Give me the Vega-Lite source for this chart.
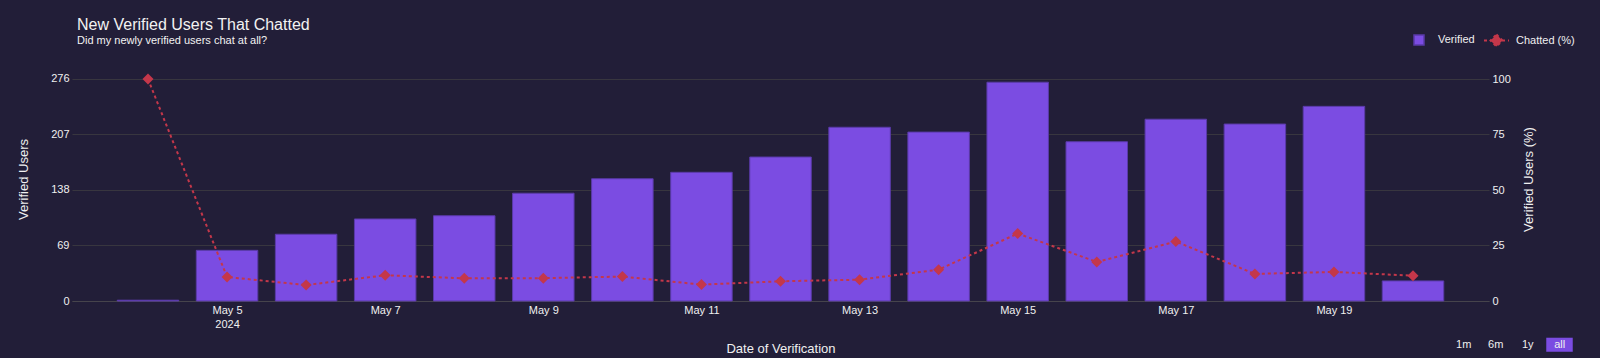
{
  "$schema": "https://vega.github.io/schema/vega-lite/v6.json",
  "width": 1417,
  "height": 244,
  "autosize": "none",
  "padding": {"left": 72, "top": 57, "right": 111, "bottom": 57},
  "background": "#221e38",
  "config": {
    "view": {"stroke": null},
    "font": "Liberation Sans",
    "scale": {"continuousPadding": 0},
    "axis": {
      "labelFont": "Liberation Sans",
      "titleFont": "Liberation Sans",
      "labelColor": "#f0f0f0",
      "titleColor": "#f0f0f0",
      "labelFontSize": 11,
      "titleFontSize": 13,
      "titleFontWeight": "normal",
      "gridColor": "#38363f",
      "gridWidth": 1,
      "domain": false,
      "ticks": false
    },
    "legend": {"labelColor": "#f0f0f0", "labelFontSize": 11, "labelFont": "Liberation Sans"}
  },
  "title": {
    "text": "New Verified Users That Chatted",
    "subtitle": "Did my newly verified users chat at all?",
    "anchor": "start",
    "frame": "group",
    "dx": 5,
    "dy": 29,
    "offset": 10,
    "font": "Liberation Sans",
    "fontSize": 16,
    "fontWeight": "normal",
    "color": "#f2f2f2",
    "subtitleFont": "Liberation Sans",
    "subtitleFontSize": 11,
    "subtitleColor": "#f2f2f2",
    "subtitlePadding": 2
  },
  "data": {
    "values": [
      {"date": "2024-05-04", "verified": 1, "chatted": 100},
      {"date": "2024-05-05", "verified": 63, "chatted": 10.8},
      {"date": "2024-05-06", "verified": 83, "chatted": 7.2},
      {"date": "2024-05-07", "verified": 102, "chatted": 11.6},
      {"date": "2024-05-08", "verified": 106, "chatted": 10.2},
      {"date": "2024-05-09", "verified": 134, "chatted": 10.3},
      {"date": "2024-05-10", "verified": 152, "chatted": 11.0},
      {"date": "2024-05-11", "verified": 160, "chatted": 7.4},
      {"date": "2024-05-12", "verified": 179, "chatted": 8.9},
      {"date": "2024-05-13", "verified": 216, "chatted": 9.6},
      {"date": "2024-05-14", "verified": 210, "chatted": 14.1},
      {"date": "2024-05-15", "verified": 272, "chatted": 30.4},
      {"date": "2024-05-16", "verified": 198, "chatted": 17.6},
      {"date": "2024-05-17", "verified": 226, "chatted": 26.8},
      {"date": "2024-05-18", "verified": 220, "chatted": 12.2},
      {"date": "2024-05-19", "verified": 242, "chatted": 13.1},
      {"date": "2024-05-20", "verified": 25, "chatted": 11.4}
    ]
  },
  "layer": [
    {
      "mark": {"type": "bar", "width": 61.5, "stroke": "#5a3aa8", "strokeWidth": 1},
      "encoding": {
        "x": {
          "field": "date",
          "type": "temporal",
          "scale": {
            "type": "utc",
            "padding": 0,
            "domain": [
              {"year": 2024, "month": 5, "date": 3, "hours": 0, "minutes": 56, "utc": true},
              {"year": 2024, "month": 5, "date": 20, "hours": 23, "minutes": 4, "utc": true}
            ]
          },
          "axis": {
            "title": "Date of Verification",
            "values": [
              {"year": 2024, "month": 5, "date": 5, "utc": true},
              {"year": 2024, "month": 5, "date": 7, "utc": true},
              {"year": 2024, "month": 5, "date": 9, "utc": true},
              {"year": 2024, "month": 5, "date": 11, "utc": true},
              {"year": 2024, "month": 5, "date": 13, "utc": true},
              {"year": 2024, "month": 5, "date": 15, "utc": true},
              {"year": 2024, "month": 5, "date": 17, "utc": true},
              {"year": 2024, "month": 5, "date": 19, "utc": true}
            ],
            "labelExpr": "utcdate(datum.value) == 5 ? [utcFormat(datum.value, '%b %-d'), '2024'] : utcFormat(datum.value, '%b %-d')",
            "labelLineHeight": 14,
            "labelPadding": 3,
            "grid": false,
            "domain": true,
            "domainColor": "#46444c",
            "titlePadding": 13
          }
        },
        "y": {
          "field": "verified",
          "type": "quantitative",
          "scale": {"domain": [0, 303.35]},
          "axis": {
            "orient": "left",
            "title": "Verified Users",
            "values": [0, 69, 138, 207, 276],
            "grid": true,
            "labelPadding": 3,
            "titlePadding": 20
          }
        },
        "fill": {
          "datum": "Verified",
          "scale": {"range": ["#7b4ce2"]},
          "legend": {
            "title": null,
            "orient": "none",
            "legendX": 1341,
            "legendY": -23,
            "symbolType": "square",
            "symbolSize": 100,
            "labelOffset": 13,
            "encode": {"symbols": {"update": {"fill": {"value": "#7b4ce2"}, "stroke": {"value": "transparent"}, "strokeWidth": {"value": 0}}}}
          }
        }
      }
    },
    {
      "mark": {"type": "line", "strokeWidth": 2, "strokeDash": [3, 3]},
      "encoding": {
        "x": {"field": "date", "type": "temporal"},
        "y": {
          "field": "chatted",
          "type": "quantitative",
          "scale": {"domain": [0, 109.91]},
          "axis": {
            "orient": "right",
            "title": "Verified Users (%)",
            "values": [0, 25, 50, 75, 100],
            "grid": false,
            "labelPadding": 3,
            "titlePadding": 12,
            "titleAngle": 270,
            "titleBaseline": "top"
          }
        },
        "stroke": {
          "datum": "Chatted (%)",
          "scale": {"range": ["#c4374a"]},
          "legend": {
            "title": null,
            "orient": "none",
            "legendX": 1411,
            "legendY": -30,
            "symbolType": "M-1,0H1M0,-0.48L0.48,0L0,0.48L-0.48,0Z",
            "symbolSize": 625,
            "labelOffset": 6,
            "encode": {"symbols": {"update": {"fill": {"value": "#c4374a"}, "stroke": {"value": "#c4374a"}, "strokeWidth": {"value": 2}, "strokeDash": {"value": [3, 3]}, "opacity": {"value": 1}}}}
          }
        }
      }
    },
    {
      "mark": {"type": "point", "shape": "diamond", "filled": true, "size": 121, "color": "#c4374a", "opacity": 1},
      "encoding": {
        "x": {"field": "date", "type": "temporal"},
        "y": {"field": "chatted", "type": "quantitative", "scale": {"domain": [0, 109.91]}, "axis": null}
      }
    },
    {
      "data": {"values": [{"btn": "1m"}, {"btn": "6m"}, {"btn": "1y"}, {"btn": "all"}]},
      "mark": {"type": "point", "filled": true, "opacity": 0},
      "encoding": {
        "shape": {
          "field": "btn",
          "type": "nominal",
          "scale": {
            "domain": ["1m", "6m", "1y", "all"],
            "range": ["M-1,-0.53H1V0.53H-1Z", "M-1,-0.53H1V0.53H-1Z", "M-1,-0.53H1V0.53H-1Z", "M-1,-0.53H1V0.53H-1Z"]
          },
          "legend": {
            "title": null,
            "orient": "none",
            "direction": "horizontal",
            "legendX": 1378,
            "legendY": 274,
            "symbolSize": 702,
            "labelAlign": "center",
            "labelOffset": -13.25,
            "columnPadding": 5,
            "encode": {
              "symbols": {"update": {"stroke": {"value": "transparent"}, "strokeWidth": {"value": 0}, "opacity": {"value": 1}}}
            }
          }
        },
        "color": {
          "field": "btn",
          "type": "nominal",
          "scale": {
            "domain": ["1m", "6m", "1y", "all"],
            "range": ["transparent", "transparent", "transparent", "#7b4ce2"]
          },
          "legend": {
            "title": null,
            "orient": "none",
            "direction": "horizontal",
            "legendX": 1378,
            "legendY": 274,
            "symbolSize": 702,
            "labelAlign": "center",
            "labelOffset": -13.25,
            "columnPadding": 5,
            "encode": {
              "symbols": {"update": {"stroke": {"value": "transparent"}, "strokeWidth": {"value": 0}, "opacity": {"value": 1}}}
            }
          }
        }
      }
    }
  ],
  "resolve": {"scale": {"y": "independent"}}
}
